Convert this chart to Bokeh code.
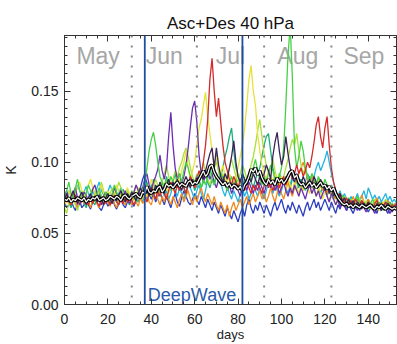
from bokeh.plotting import figure
from bokeh.models import (LinearAxis, Span, FixedTicker, NumeralTickFormatter, Range1d,
                          ColumnDataSource, CustomJSTickFormatter)
from bokeh.core.properties import value
from bokeh.embed import file_html
from bokeh.resources import INLINE

# ---------------- data (values in mK) ----------------
month_names = ["May", "Jun", "Jul", "Aug", "Sep"]
month_mid_day = [15.5, 46, 76.5, 107.5, 138]
month_start_day = [31, 61, 92, 123]
deepwave_day = [37, 82]
x_tick_vals = [0, 20, 40, 60, 80, 100, 120, 140]
y_tick_vals = [0.0, 0.05, 0.10, 0.15]

mean_mK = [
    74,73,75,72,74,73,75,74,73,75, 72,74,73,75,74,76,73,74,75,73,
    74,76,75,74,76,75,73,76,77,75, 74,76,77,78,76,75,79,78,83,79,
    78,80,79,82,83,79,81,85,83,84, 82,84,86,83,85,84,83,86,87,84,
    86,85,88,91,94,90,92,97,98,93, 90,88,86,84,86,83,85,82,84,83,
    81,83,80,84,86,90,95,93,96,91, 94,89,86,84,88,85,87,84,89,86,
    88,85,87,90,93,94,89,91,86,84, 85,82,84,86,83,85,82,84,86,83,
    84,81,83,80,82,78,75,73,71,70, 71,69,70,68,70,69,68,70,69,68,
    69,70,68,67,69,68,70,68,67,69, 68,67,68,67]

purple_mK = [
    76,80,74,71,78,82,75,70,73,79, 77,72,75,81,84,78,73,70,76,79,
    74,71,77,82,78,75,72,76,80,74, 71,75,79,84,80,77,82,88,92,84,
    80,86,90,95,105,94,88,96,118,135, 112,96,88,92,85,90,98,110,125,138,
    143,128,105,92,86,90,95,88,92,86, 82,88,84,90,86,80,84,78,82,86,
    80,76,82,85,80,86,82,78,84,80, 86,82,78,84,88,82,86,80,84,78,
    82,86,80,76,82,78,84,80,76,82, 78,74,80,84,78,82,76,80,74,78,
    82,76,72,78,74,70,74,68,72,70, 66,70,68,72,69,66,70,73,68,65,
    68,71,67,64,68,70,66,69,72,67, 64,67,70,66]

blue_mK = [
    72,68,70,74,69,66,71,73,68,70, 74,70,67,72,75,71,68,66,70,73,
    69,72,76,70,67,71,74,70,68,72, 75,71,69,73,77,82,88,92,84,78,
    74,78,72,76,80,74,70,76,72,68, 74,78,72,69,75,80,76,72,70,74,
    78,74,70,76,72,68,74,70,66,72, 68,64,70,66,62,68,64,60,66,62,
    58,64,68,62,70,74,68,64,70,66, 72,68,64,70,66,62,68,72,66,70,
    74,68,64,70,66,72,68,64,70,66, 62,68,72,66,70,74,68,72,66,70,
    74,70,66,72,68,64,70,67,72,69, 66,70,67,64,68,71,66,69,72,68,
    65,68,71,67,64,69,66,70,67,64, 68,65,69,66]

cyan_mK = [
    78,74,80,76,72,78,84,80,75,79, 83,78,74,80,76,82,86,80,77,73,
    79,84,80,76,72,78,82,77,74,80, 76,72,78,74,80,76,72,78,74,80,
    84,78,74,80,86,82,76,80,74,78, 84,80,76,82,78,74,80,86,82,78,
    74,80,84,78,74,80,88,96,90,98, 105,94,86,80,76,82,78,74,80,76,
    72,78,82,76,80,74,78,84,80,76, 82,78,74,80,86,82,78,84,80,76,
    80,86,82,78,84,90,86,80,84,88, 82,86,92,88,84,90,96,100,94,98,
    102,108,100,92,86,80,76,80,74,78, 74,70,76,72,74,78,72,76,80,74,
    82,78,74,77,73,76,72,75,78,73, 76,72,74,71]

teal_mK = [
    70,76,72,68,74,78,73,70,75,71, 68,74,78,72,70,75,79,74,71,76,
    80,75,71,77,73,70,76,81,77,73, 70,75,79,74,72,78,74,80,86,78,
    82,88,80,84,78,86,82,90,84,80, 86,92,84,80,88,82,78,84,90,86,
    80,84,88,82,86,92,86,82,88,84, 92,86,90,96,104,110,118,124,108,96,
    90,86,82,88,84,90,86,82,88,92, 96,104,112,118,120,108,96,90,86,92,
    88,84,90,86,82,88,92,86,82,88, 84,80,86,90,84,80,86,82,78,84,
    80,76,82,78,74,78,72,70,74,71, 68,72,70,67,71,74,69,72,68,71,
    74,70,67,71,73,69,72,68,71,69, 72,68,70,71]

green_mK = [
    74,80,86,78,74,82,88,80,76,72, 78,84,80,75,72,78,82,76,73,79,
    76,72,78,84,79,75,80,76,72,78, 74,80,76,72,78,82,80,86,96,108,
    116,121,112,100,90,86,82,88,84,90, 86,82,88,92,86,94,100,96,90,86,
    84,90,86,82,88,84,90,96,88,84, 90,86,92,88,84,80,86,90,84,88,
    82,86,92,88,84,90,86,96,102,94, 88,84,90,86,92,98,94,88,84,90,
    96,110,140,175,196,160,110,96,104,115, 108,96,90,86,92,88,84,90,86,82,
    88,84,80,84,78,80,76,73,77,74, 71,75,72,69,73,76,71,68,72,70,
    67,71,74,70,68,72,69,66,70,72, 68,71,67,70]

lime_mK = [
    68,64,72,78,74,70,66,72,76,80, 74,70,76,82,78,74,80,86,80,76,
    72,78,82,76,80,86,82,78,74,80, 76,72,78,84,80,76,82,78,84,80,
    76,82,88,84,80,86,92,98,90,84, 88,94,90,96,100,106,110,104,96,90,
    86,92,88,94,100,92,88,84,90,96, 100,94,88,92,86,90,96,102,96,90,
    86,92,98,94,88,92,98,104,112,122, 130,118,106,98,92,96,102,94,88,92,
    86,90,96,102,110,116,112,120,108,98, 92,96,90,86,92,88,84,88,82,86,
    80,84,78,82,76,80,74,78,72,76, 73,70,74,71,68,72,75,71,68,73,
    70,67,71,74,69,72,68,71,74,70, 67,71,68,70]

yellow_mK = [
    70,74,80,76,72,78,82,86,80,75, 78,84,88,82,78,74,80,84,78,74,
    80,76,72,78,84,80,76,72,78,82, 78,74,80,76,82,78,74,80,76,82,
    88,84,78,82,76,80,86,82,78,84, 80,86,92,86,94,100,108,96,88,94,
    100,112,124,130,140,149,132,120,108,98, 104,96,92,98,90,86,92,88,84,90,
    96,104,112,124,140,158,168,150,140,120, 108,98,92,88,94,90,86,92,88,84,
    90,86,82,88,84,80,86,82,78,84, 80,86,82,78,84,80,76,82,78,74,
    80,76,72,78,74,70,74,71,76,72, 69,73,70,74,71,68,72,69,73,70,
    67,71,68,72,70,66,69,72,68,71, 69,66,70,67]

orange_mK = [
    72,76,70,74,78,72,68,74,77,71, 75,72,68,73,77,71,68,74,70,76,
    72,69,75,71,68,74,78,72,70,76, 73,70,76,72,69,75,71,74,78,72,
    70,76,80,74,70,76,72,78,74,70, 76,72,68,74,78,72,76,80,74,70,
    76,72,78,82,76,72,78,74,70,76, 70,66,72,68,64,70,62,68,72,66,
    70,74,68,72,76,70,74,78,72,76, 80,74,78,72,76,82,76,72,78,84,
    78,74,80,86,80,76,82,88,92,96, 100,94,88,84,90,86,82,88,84,80,
    84,78,82,76,80,74,78,72,76,73, 70,74,71,76,72,69,73,77,72,70,
    74,71,68,72,75,70,68,72,69,73, 70,67,71,68]

red_mK = [
    76,72,74,70,73,77,71,74,72,76, 73,70,74,71,75,72,69,73,76,71,
    74,70,73,77,72,70,74,71,75,72, 76,73,70,74,78,74,80,76,72,78,
    82,78,74,80,76,82,78,74,80,86, 82,78,84,80,86,82,78,84,90,86,
    82,88,94,90,100,112,130,158,173,150, 132,145,128,112,100,94,88,84,90,86,
    82,88,84,80,86,82,78,84,80,86, 82,78,84,88,82,86,80,84,88,82,
    86,90,84,88,94,88,92,98,92,96, 90,94,100,96,104,114,126,132,118,110,
    124,132,112,96,86,80,76,78,74,72, 75,71,73,70,74,72,69,73,71,68,
    72,70,67,71,73,69,71,68,72,70, 67,70,68,71]

dark_mK = [
    74,78,72,76,80,75,71,76,79,74, 70,75,78,73,76,72,77,74,70,75,
    78,74,71,76,73,77,80,75,72,78, 75,79,76,73,78,82,78,84,80,76,
    82,78,84,80,86,82,78,84,88,82, 86,82,88,84,80,86,90,86,82,88,
    84,90,86,92,88,94,100,106,110,96, 110,98,90,86,92,88,96,104,115,100,
    90,86,92,88,84,90,86,92,88,84, 90,86,92,98,94,88,104,114,121,108,
    98,104,118,106,96,90,86,92,88,84, 90,86,82,88,84,90,86,82,88,84,
    80,84,78,82,76,80,74,78,72,75, 71,74,70,73,69,72,70,67,71,69,
    72,68,70,67,71,69,66,70,68,71, 69,66,68,67]

series_list = [
    (blue_mK, "#2c3fc0"),
    (cyan_mK, "#22b4e0"),
    (teal_mK, "#1fae7a"),
    (orange_mK, "#f08a1e"),
    (lime_mK, "#a8e03a"),
    (yellow_mK, "#e6e23a"),
    (purple_mK, "#6a2fb0"),
    (green_mK, "#46d046"),
    (red_mK, "#d42a2a"),
    (dark_mK, "#3a2458"),
]

FONT = "Liberation Sans"

p = figure(width=397, height=344, output_backend="svg", toolbar_location=None,
           x_range=Range1d(0, 153), y_range=Range1d(0, 0.189),
           min_border_left=64, min_border_right=1, min_border_top=35, min_border_bottom=39,
           background_fill_color="white", border_fill_color="white")
p.grid.visible = False
p.outline_line_color = "#333333"
p.outline_line_width = 1

p.title.text = "Asc+Des 40 hPa"
p.title.align = "center"
p.title.text_font = FONT
p.title.text_font_size = "17px"
p.title.text_font_style = "normal"
p.title.text_color = "#111111"
p.title.standoff = 6

empty_fmt = CustomJSTickFormatter(code="return ''")

def style_axis(ax, labels=True):
    ax.axis_line_color = "#333333"
    ax.major_tick_in = 6
    ax.major_tick_out = 0
    ax.minor_tick_in = 3
    ax.minor_tick_out = 0
    ax.major_tick_line_color = "#333333"
    ax.minor_tick_line_color = "#333333"
    ax.major_label_text_font = FONT
    ax.major_label_text_color = "#222222"
    if labels:
        ax.major_label_text_font_size = "14px"
    else:
        ax.formatter = empty_fmt
        ax.major_label_text_font_size = "1px"
        ax.major_label_standoff = 0

xb = p.xaxis[0]
xb.ticker = FixedTicker(ticks=x_tick_vals, minor_ticks=list(range(0, 154, 5)))
style_axis(xb)
xb.major_label_standoff = 9
xb.axis_label = "days"
xb.axis_label_text_font = FONT
xb.axis_label_text_font_size = "13px"
xb.axis_label_text_font_style = "normal"
xb.axis_label_text_color = "#222222"
xb.axis_label_standoff = 0

yl = p.yaxis[0]
y_minor = [round(i * 0.00625, 5) for i in range(0, 31)]
yl.ticker = FixedTicker(ticks=y_tick_vals, minor_ticks=y_minor)
yl.formatter = NumeralTickFormatter(format="0.00")
style_axis(yl)
yl.major_label_standoff = 6
yl.axis_label = "K"
yl.axis_label_text_font = FONT
yl.axis_label_text_font_size = "14px"
yl.axis_label_text_font_style = "normal"
yl.axis_label_text_color = "#222222"
yl.axis_label_standoff = 9

xt = LinearAxis(ticker=FixedTicker(ticks=x_tick_vals, minor_ticks=list(range(0, 154, 5))))
style_axis(xt, labels=False)
p.add_layout(xt, "above")
yr = LinearAxis(ticker=FixedTicker(ticks=y_tick_vals, minor_ticks=y_minor))
style_axis(yr, labels=False)
p.add_layout(yr, "right")

# month boundaries
for d in month_start_day:
    p.add_layout(Span(location=d, dimension="height", line_color="#888888",
                      line_width=2, line_dash="2 8"))

# month labels
p.text(x=month_mid_day, y=[0.1743] * len(month_names), text=month_names,
       text_align="center", text_baseline="alphabetic",
       text_font=value(FONT), text_font_size="23px", text_color="#a6a6a6")

# colored series
for vals, col in series_list:
    src = ColumnDataSource(dict(x=list(range(len(vals))), y=[v / 1000.0 for v in vals]))
    p.line("x", "y", source=src, line_color=col, line_width=1.3)

# DeepWave period
for d in deepwave_day:
    p.add_layout(Span(location=d, dimension="height", line_color="#1f4e9e", line_width=1.8))
p.text(x=[deepwave_day[0] + 1.4], y=[0.0070], text=["DeepWave"],
       text_align="left", text_baseline="alphabetic",
       text_font=value(FONT), text_font_size="18px", text_color="#2a5aa8")

# mean
msrc = ColumnDataSource(dict(x=list(range(len(mean_mK))), y=[v / 1000.0 for v in mean_mK]))
p.line("x", "y", source=msrc, line_color="black", line_width=3.6)
p.line("x", "y", source=msrc, line_color="white", line_width=1.2)

open("out.html", "w").write(file_html(p, INLINE))
